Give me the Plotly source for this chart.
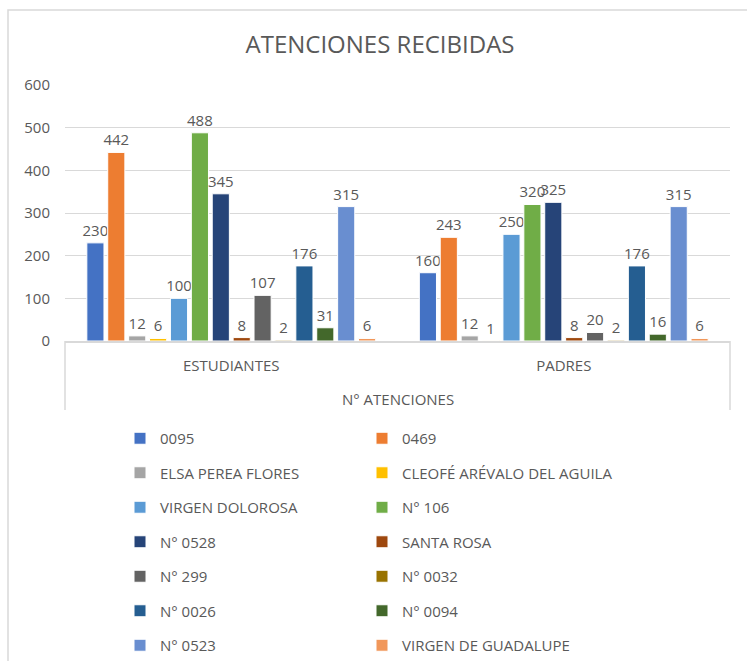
import plotly.graph_objects as go

CATEGORIES = ['ESTUDIANTES', 'PADRES']
SERIES = ['0095', '0469', 'ELSA PEREA FLORES', 'CLEOFÉ ARÉVALO DEL AGUILA',
          'VIRGEN DOLOROSA', 'N° 106', 'N° 0528', 'SANTA ROSA', 'N° 299',
          'N° 0032', 'N° 0026', 'N° 0094', 'N° 0523', 'VIRGEN DE GUADALUPE']
ESTUDIANTES = [230, 442, 12, 6, 100, 488, 345, 8, 107, 2, 176, 31, 315, 6]
PADRES = [160, 243, 12, 1, 250, 320, 325, 8, 20, 2, 176, 16, 315, 6]
COLORS = ['#4472C4', '#ED7D31', '#A5A5A5', '#FFC000', '#5B9BD5', '#70AD47',
          '#264478', '#9E480E', '#636363', '#997300', '#255E91', '#43682B',
          '#698ED0', '#F1975A']

W, H = 747, 661
FONT = 'Open Sans'
GREY = '#595959'
LINE = '#d9d9d9'

fig = go.Figure()
for i, name in enumerate(SERIES):
    fig.add_trace(go.Bar(
        x=CATEGORIES,
        y=[ESTUDIANTES[i], PADRES[i]],
        name=name,
        marker=dict(color=COLORS[i], line=dict(color='white', width=1)),
        texttemplate='%{y}',
        textposition='outside',
        constraintext='none',
        cliponaxis=False,
        textfont=dict(size=15, color=GREY, family=FONT),
        legend='legend' if i % 2 == 0 else 'legend2',
        legendgroup=name,
    ))

# plot area spans px 65..730 horizontally, 85..341 vertically
L, R, T, B = 65, W - 730, 85, H - 341
pw, ph = W - L - R, H - T - B


def px_x(p):
    return (p - L) / pw


def px_y(p):
    return (H - B - p) / ph


legend_common = dict(
    orientation='v', xref='container', yref='container',
    xanchor='left', yanchor='top', y=1 - 422 / H,
    font=dict(size=15, color=GREY, family=FONT),
    tracegroupgap=12, itemwidth=30, bgcolor='rgba(0,0,0,0)',
)

fig.update_layout(
    width=W, height=H,
    margin=dict(l=L, r=R, t=T, b=B, autoexpand=False),
    paper_bgcolor='white', plot_bgcolor='white',
    barmode='group', bargap=0.12, bargroupgap=0.18,
    title=dict(text='ATENCIONES RECIBIDAS', x=380 / W, xanchor='center',
               y=1 - 45 / H, yanchor='middle',
               font=dict(size=24, color=GREY, family=FONT)),
    font=dict(family=FONT, color=GREY),
    legend=dict(x=120 / W, **legend_common),
    legend2=dict(x=362 / W, **legend_common),
    yaxis=dict(range=[0, 600], dtick=100, showgrid=True, gridcolor=LINE,
               gridwidth=1, zeroline=False, showline=False,
               ticklabelstandoff=14,
               tickfont=dict(size=15, color=GREY, family=FONT)),
    xaxis=dict(showline=True, linecolor=LINE, linewidth=1.5, showgrid=False,
               ticks='', ticklabelstandoff=10, tickangle=0,
               tickfont=dict(size=15, color=GREY, family=FONT)),
    showlegend=True,
)

# multi-level category box and outer chart frame
fig.add_shape(type='line', xref='paper', yref='paper', x0=0, x1=0,
              y0=0, y1=px_y(410), line=dict(color=LINE, width=1.5))
fig.add_shape(type='line', xref='paper', yref='paper', x0=1, x1=1,
              y0=0, y1=px_y(410), line=dict(color=LINE, width=1.5))
fig.add_shape(type='rect', xref='paper', yref='paper',
              x0=px_x(8), x1=px_x(760), y0=px_y(680), y1=px_y(10),
              line=dict(color=LINE, width=1.5), layer='below')
fig.add_annotation(text='N° ATENCIONES', xref='paper', yref='paper',
                   x=0.5, y=px_y(399), yanchor='middle', showarrow=False,
                   font=dict(size=15, color=GREY, family=FONT))

fig.write_html('out.html', config={'displayModeBar': False},
               post_script="document.body.style.margin='0';")
